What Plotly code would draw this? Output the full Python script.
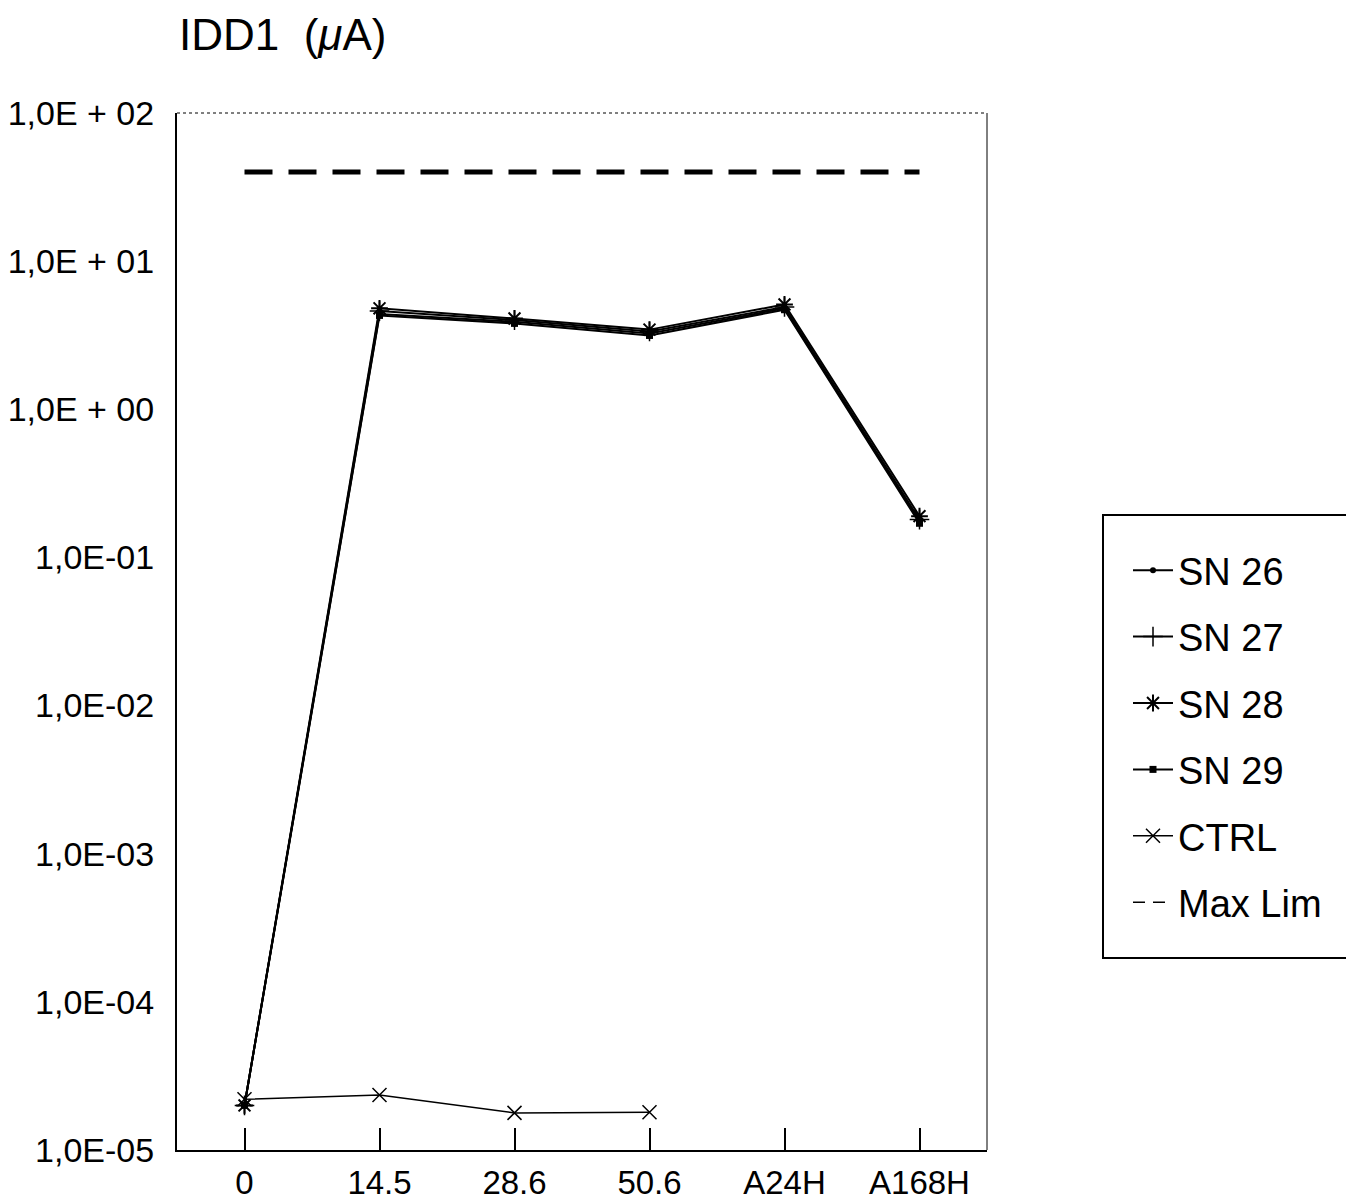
import plotly.graph_objects as go

categories = ["0", "14.5", "28.6", "50.6", "A24H", "A168H"]
sn26 = [2.0e-5, 4.4, 3.9, 3.25, 4.8, 0.175]
sn27 = [2.0e-5, 4.6, 4.0, 3.35, 4.9, 0.18]
sn28 = [2.0e-5, 4.8, 4.1, 3.45, 5.1, 0.19]
sn29 = [2.0e-5, 4.3, 3.8, 3.15, 4.7, 0.17]
ctrl = [2.2e-5, 2.35e-5, 1.78e-5, 1.8e-5, None, None]
max_lim = [40, 40, 40, 40, 40, 40]

ytickvals = [1e-5, 1e-4, 1e-3, 1e-2, 1e-1, 1e0, 1e1, 1e2]
yticktext = ["1,0E-05", "1,0E-04", "1,0E-03", "1,0E-02", "1,0E-01",
             "1,0E + 00", "1,0E + 01", "1,0E + 02"]

font = "Liberation Sans, Arial, sans-serif"

# page body has an 8px margin; compensate so the plot area lands at 177..987 x 113..1150
W, H = 1346, 1192
ML, MT, MR, MB = 169, 105, 367, 50
PW, PH = W - ML - MR, H - MT - MB


def px_x(x):
    return (x - 177) / PW


def px_y(y):
    return (1150 - y) / PH


fig = go.Figure()

series = [
    ("SN 26", sn26, dict(symbol="circle", size=6, color="black")),
    ("SN 27", sn27, dict(symbol="cross-thin", size=14, color="black", line=dict(width=1.5, color="black"))),
    ("SN 28", sn28, dict(symbol="asterisk", size=14, color="black", line=dict(width=2, color="black"))),
    ("SN 29", sn29, dict(symbol="square", size=7, color="black")),
    ("CTRL", ctrl, dict(symbol="x-thin", size=14, color="black", line=dict(width=1.5, color="black"))),
]
for name, vals, mk in series:
    fig.add_trace(go.Scatter(
        x=categories, y=vals, name=name, mode="lines+markers",
        line=dict(color="black", width=2 if name != "CTRL" else 1.5),
        marker=mk, legendgroup=name, connectgaps=False,
    ))
fig.add_trace(go.Scatter(
    x=categories, y=max_lim, name="Max Lim", mode="lines",
    line=dict(color="black", width=5, dash="28px,16px"), legendgroup="Max Lim",
    showlegend=False,
))
# legend-only entry with the thin dashed key shown in the reference
fig.add_trace(go.Scatter(
    x=[None], y=[None], name="Max Lim", mode="lines",
    line=dict(color="black", width=1.5, dash="12px,8px"), legendgroup="Max Lim",
))

fig.update_layout(
    width=W, height=H,
    paper_bgcolor="white", plot_bgcolor="white",
    margin=dict(l=ML, r=MR, t=MT, b=MB, autoexpand=False),
    font=dict(family=font, color="black"),
    showlegend=True,
    legend=dict(
        x=px_x(1128), y=px_y(539), xanchor="left", yanchor="top",
        font=dict(size=38, family=font, color="black"),
        borderwidth=0, bgcolor="rgba(0,0,0,0)",
        traceorder="grouped", tracegroupgap=14,
        itemwidth=40,
    ),
    annotations=[dict(
        text="IDD1  (<i>μ</i>A)", x=0.0, y=1 + (113 - 35) / PH, xref="paper", yref="paper",
        showarrow=False, font=dict(size=44, family=font, color="black"),
        xanchor="left", yanchor="middle",
    )],
)

fig.update_xaxes(
    type="category", categoryorder="array", categoryarray=categories,
    range=[-0.5, 5.5], automargin=False,
    showline=True, linecolor="black", linewidth=2, mirror=False,
    ticks="inside", ticklen=22, tickwidth=2, tickcolor="black",
    showgrid=False, zeroline=False,
    tickfont=dict(size=33, family=font, color="black"),
    ticklabelstandoff=2,
)
fig.update_yaxes(
    type="log", range=[-5, 2], automargin=False,
    tickvals=ytickvals, ticktext=yticktext,
    showline=True, linecolor="black", linewidth=2, mirror=False,
    ticks="", showgrid=False, zeroline=False,
    tickfont=dict(size=34, family=font, color="black"),
    ticklabelstandoff=14,
)
# thin top and right frame
fig.add_shape(type="line", xref="paper", yref="paper", x0=0, x1=1, y0=1, y1=1,
              line=dict(color="black", width=1, dash="dot"))
fig.add_shape(type="line", xref="paper", yref="paper", x0=1, x1=1, y0=0, y1=1,
              line=dict(color="black", width=1))
# legend frame: open on the right, running off the page edge as in the reference
lx0, lx1, ly0, ly1 = px_x(1103), px_x(1420), px_y(958), px_y(515)
fig.add_shape(type="path", xref="paper", yref="paper",
              path=f"M {lx1} {ly1} L {lx0} {ly1} L {lx0} {ly0} L {lx1} {ly0}",
              line=dict(color="black", width=2))

fig.write_html("out.html")
